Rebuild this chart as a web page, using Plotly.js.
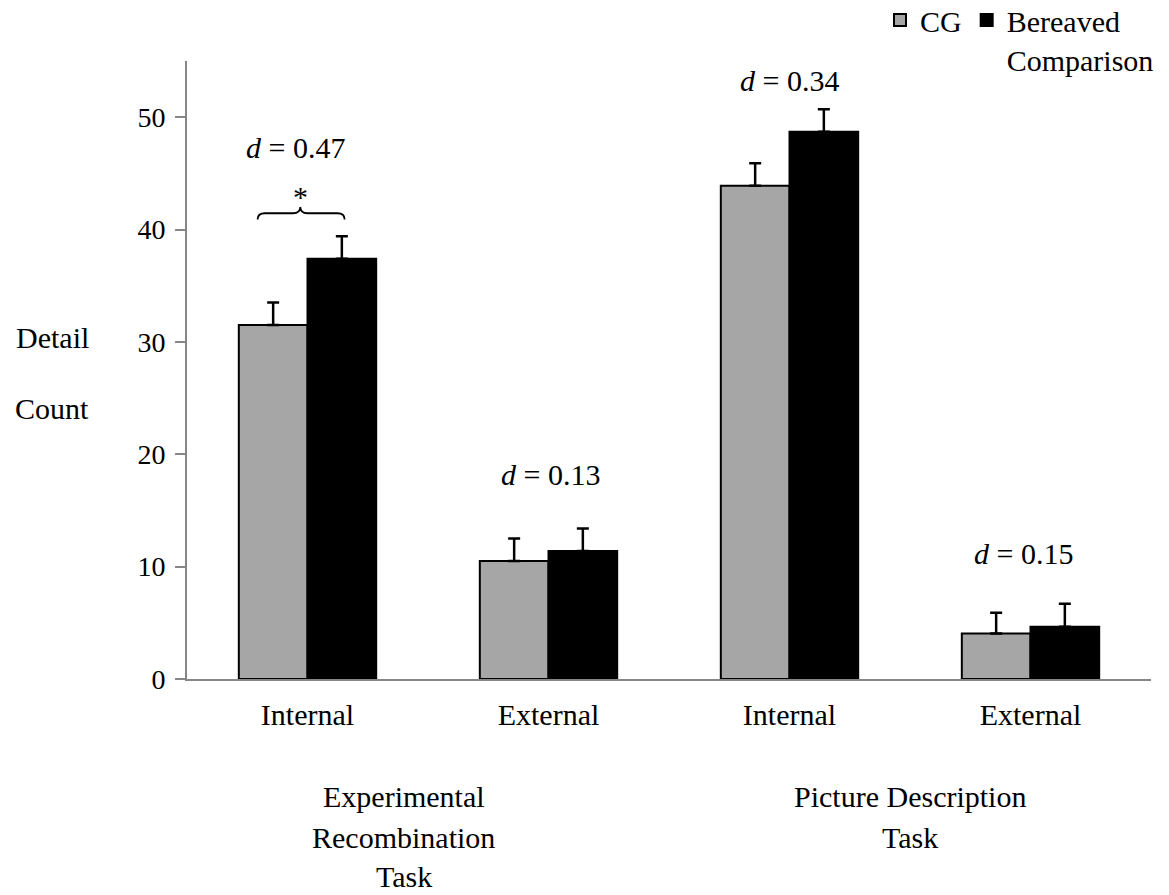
<!DOCTYPE html>
<html>
<head>
<meta charset="utf-8">
<script src="https://cdn.plot.ly/plotly-3.0.1.min.js"></script>
<style>html,body{margin:0;padding:0;background:#fff;}#chart{width:1169px;height:895px;}</style>
</head>
<body>
<div id="chart"></div>
<script>
// ---- data ----
const categoryPositions = [0, 1, 2, 3];
const categoryLabels = ["Internal", "External", "Internal", "External"];
const cgValues = [31.5, 10.5, 43.9, 4.05];
const cgErrors = [2.0, 2.0, 2.0, 1.85];
const bereavedValues = [37.4, 11.4, 48.7, 4.65];
const bereavedErrors = [2.0, 2.0, 2.0, 2.05];
const seriesNames = ["CG", "Bereaved<br>Comparison"];
const effectLabels = ["<i>d</i> = 0.47", "<i>d</i> = 0.13", "<i>d</i> = 0.34", "<i>d</i> = 0.15"];
const groupLabelLines = [["Experimental", "Recombination", "Task"], ["Picture Description", "Task"]];
const yTitleWords = ["Detail", "Count"];

const FONT = "Liberation Serif, Times New Roman, serif";
const zeros = cgValues.map(() => 0);

const traces = [
  {
    type: "bar", name: seriesNames[0], x: categoryPositions, y: cgValues,
    marker: {color: "#a6a6a6", line: {color: "#000", width: 2}},
    error_y: {type: "data", symmetric: false, array: cgErrors, arrayminus: zeros, color: "#000", thickness: 2.5, width: 6}
  },
  {
    type: "bar", name: seriesNames[1], x: categoryPositions, y: bereavedValues,
    marker: {color: "#000000", line: {color: "#000", width: 2}},
    error_y: {type: "data", symmetric: false, array: bereavedErrors, arrayminus: zeros, color: "#000", thickness: 2.5, width: 6}
  }
];

const W = 1169, H = 895;
const margin = {l: 187, r: 18, t: 61, b: 216, pad: 0, autoexpand: false};
const pw = W - margin.l - margin.r, ph = H - margin.t - margin.b;
const pyToPaper = py => (H - margin.b - py) / ph;
const pxToPaper = px => (px - margin.l) / pw;

// annotation placement
const effectX = [-0.05, 1.01, 2.0, 2.97];
const effectY = [47.3, 18.2, 53.3, 11.2];
const annotations = effectLabels.map((t, i) => ({
  text: t, x: effectX[i], y: effectY[i], xref: "x", yref: "y", xanchor: "center", yanchor: "middle",
  showarrow: false, font: {family: FONT, size: 30, color: "#000"}
}));
annotations.push({text: "*", x: -0.03, y: 42.9, xref: "x", yref: "y", xanchor: "center", yanchor: "middle",
  showarrow: false, font: {family: FONT, size: 30, color: "#000"}});
const groupX = [0.4, 2.5];
const groupLineY = [796, 837, 876];
groupLabelLines.forEach((lines, i) => lines.forEach((t, j) => annotations.push({
  text: t, x: groupX[i], y: pyToPaper(groupLineY[j]), xref: "x", yref: "paper",
  xanchor: "center", yanchor: "middle",
  showarrow: false, font: {family: FONT, size: 30, color: "#000"}
})));
const yTitleX = 52, yTitleY = [338, 408];
yTitleWords.forEach((t, i) => annotations.push({
  text: t, x: pxToPaper(yTitleX), y: pyToPaper(yTitleY[i]), xref: "paper", yref: "paper",
  xanchor: "center", yanchor: "middle", showarrow: false,
  font: {family: FONT, size: 30, color: "#000"}
}));

// brace decoration
const braceX0 = -0.207, braceX1 = 0.154, braceMid = -0.03;
const braceYEnd = 40.9, braceYH = 41.45, braceYPeak = 42.0;
const e = 0.03;
const bracePath = `M ${braceX0},${braceYEnd} Q ${braceX0},${braceYH} ${braceX0 + e},${braceYH} L ${braceMid - e},${braceYH} Q ${braceMid},${braceYH} ${braceMid},${braceYPeak} Q ${braceMid},${braceYH} ${braceMid + e},${braceYH} L ${braceX1 - e},${braceYH} Q ${braceX1},${braceYH} ${braceX1},${braceYEnd}`;

const layout = {
  width: W, height: H, margin: margin,
  paper_bgcolor: "#fff", plot_bgcolor: "#fff",
  barmode: "group", bargap: 0.43, bargroupgap: 0,
  showlegend: true,
  legend: {orientation: "h", x: pxToPaper(880), y: pyToPaper(-6), xanchor: "left", yanchor: "top",
    font: {family: FONT, size: 30, color: "#000"}, valign: "top", bgcolor: "rgba(0,0,0,0)",
    itemwidth: 30, traceorder: "normal"},
  xaxis: {
    range: [-0.5, 3.5], tickvals: categoryPositions, ticktext: categoryLabels,
    showline: true, linecolor: "#868686", linewidth: 2, ticks: "", showgrid: false, zeroline: false,
    tickfont: {family: FONT, size: 30, color: "#000"}, ticklabelstandoff: 8
  },
  yaxis: {
    range: [0, 55], dtick: 10, tick0: 0, showline: true, linecolor: "#868686", linewidth: 2,
    ticks: "outside", ticklen: 10, tickwidth: 2, tickcolor: "#868686", showgrid: false, zeroline: false,
    tickfont: {family: FONT, size: 28, color: "#000"}, ticklabelstandoff: 4
  },
  annotations: annotations,
  shapes: [{type: "path", xref: "x", yref: "y", path: bracePath, line: {color: "#000", width: 1.8}}]
};

Plotly.newPlot("chart", traces, layout, {displayModeBar: false, staticPlot: true});
</script>
</body>
</html>
